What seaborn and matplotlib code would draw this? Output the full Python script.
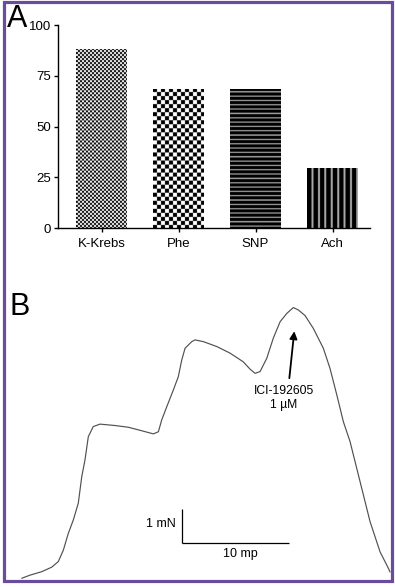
import numpy as np
import matplotlib
matplotlib.use("Agg")
import matplotlib.pyplot as plt
import seaborn as sns
from matplotlib.patches import Rectangle

# ---------------- data ----------------
categories = ["K-Krebs", "Phe", "SNP", "Ach"]
values = [88.2, 68.6, 68.6, 29.7]
y_ticks = [0, 25, 50, 75, 100]

# trace (time in min, force in mN)
time_min = [0.00, 0.77, 1.86, 2.79, 3.40, 3.87, 4.33, 4.80, 5.26, 5.58, 5.88, 6.19,
            6.65, 7.28, 8.67, 9.91, 11.15, 12.23, 12.70, 13.01, 13.48, 14.09, 14.55,
            14.87, 15.18, 15.80, 16.11, 16.88, 18.12, 19.36, 20.59, 21.22, 21.68,
            22.15, 22.77, 23.38, 24.01, 24.63, 25.24, 25.71, 26.33, 27.10, 28.03,
            28.65, 29.28, 29.89, 30.51, 31.44, 32.37, 33.30, 34.07, 34.23]
force_mN = [0.00, 0.09, 0.19, 0.32, 0.48, 0.81, 1.29, 1.68, 2.16, 2.92, 3.40, 4.07,
            4.36, 4.43, 4.39, 4.34, 4.24, 4.15, 4.21, 4.55, 4.93, 5.41, 5.79,
            6.27, 6.61, 6.80, 6.85, 6.80, 6.66, 6.47, 6.22, 6.01, 5.89,
            5.94, 6.32, 6.90, 7.37, 7.61, 7.78, 7.71, 7.55, 7.18, 6.61,
            6.03, 5.27, 4.50, 3.93, 2.78, 1.63, 0.76, 0.29, 0.18]

scale_origin = (14.87, 1.0)   # corner of the scale bar (min, mN)
scale_time = 10               # 10 mp
scale_force = 1               # 1 mN
arrow_tip = (25.33, 7.10)
arrow_tail = (24.87, 5.75)

# ---------------- style ----------------
sns.set_theme(style="ticks", rc={
    "axes.edgecolor": "black", "axes.linewidth": 1.0,
    "xtick.color": "black", "ytick.color": "black",
    "xtick.major.size": 3.0, "ytick.major.size": 3.0,
    "xtick.major.width": 1.0, "ytick.major.width": 1.0,
    "text.color": "black", "axes.labelcolor": "black",
})
plt.rcParams["font.family"] = ["Liberation Sans", "DejaVu Sans"]

W, H = 395, 587
fig = plt.figure(figsize=(W / 100, H / 100), dpi=100)
fig.patch.set_facecolor("white")

# ---------------- panel A ----------------
axA = fig.add_axes([58 / W, 1 - 228 / H, 312 / W, 203 / H])
sns.barplot(x=categories, y=values, ax=axA, color="white", width=0.66,
            edgecolor="none", linewidth=0, saturation=1)
axA.set_xlim(-0.565, 3.487)
axA.set_ylim(0, 100)
axA.set_yticks(y_ticks)
axA.set_xlabel("")
axA.set_ylabel("")
axA.tick_params(axis="both", labelsize=9.5, pad=2, direction="out")
axA.tick_params(axis="x", pad=4)
sns.despine(ax=axA)
axA.set_facecolor("none")


def pattern_array(kind, w, h, S=4):
    yy, xx = np.mgrid[0:h * S, 0:w * S] / S
    if kind == "check_fine":
        return ((xx // 2 + yy // 2) % 2).astype(float)
    if kind == "check_coarse":
        return ((xx // 4 + yy // 4) % 2).astype(float)
    if kind == "hstripes":
        return np.where((yy % 4.3) >= 3.0, 0.62, 0.0)
    if kind == "vstripes":
        return np.where((xx % 6.4) >= 4.4, 0.66, 0.0)
    return np.ones_like(xx)


kinds = ["check_fine", "check_coarse", "hstripes", "vstripes"]
for patch, kind in zip(axA.patches, kinds):
    (x0d, y0d), (x1d, y1d) = patch.get_bbox().get_points()
    p0 = axA.transData.transform((x0d, y0d))
    p1 = axA.transData.transform((x1d, y1d))
    w = max(1, int(round(abs(p1[0] - p0[0]))))
    h = max(1, int(round(abs(p1[1] - p0[1]))))
    arr = pattern_array(kind, w, h)
    im = axA.imshow(arr, cmap="gray", vmin=0, vmax=1,
                    extent=(x0d, x1d, y0d, y1d), origin="upper",
                    interpolation="antialiased", aspect="auto",
                    zorder=patch.get_zorder() + 0.1)
    im.set_clip_path(patch)
axA.set_xlim(-0.565, 3.487)
axA.set_ylim(0, 100)
axA.set_aspect("auto")

fig.text(7 / W, 1 - 4 / H, "A", fontsize=22, ha="left", va="top")

# ---------------- panel B ----------------
axB = fig.add_axes([5 / W, 1 - 580 / H, 387 / W, 290 / H])
sns.lineplot(x=time_min, y=force_mN, ax=axB, color="#505050", linewidth=0.85,
             estimator=None, sort=False)
axB.set_xlim(-1.552, 34.41)
axB.set_ylim(-0.049, 8.284)
axB.axis("off")

ox, oy = scale_origin
axB.plot([ox, ox], [oy, oy + scale_force], color="black", lw=0.9,
         solid_capstyle="butt")
axB.plot([ox, ox + scale_time], [oy, oy], color="black", lw=0.9,
         solid_capstyle="butt")
axB.text(ox - 0.6, oy + 0.56 * scale_force, "1 mN", fontsize=9, ha="right",
         va="center")
axB.text(ox + 0.546 * scale_time, oy - 0.30, "10 mp", fontsize=9, ha="center",
         va="center")

axB.annotate("", xy=arrow_tip, xytext=arrow_tail,
             arrowprops=dict(arrowstyle="-|>", color="black", lw=1.3,
                             mutation_scale=11, shrinkA=0, shrinkB=0))
axB.text(24.38, 5.38, "ICI-192605", fontsize=8.7, ha="center", va="center")
axB.text(24.38, 4.99, "1 µM", fontsize=8.7, ha="center", va="center")

fig.text(10 / W, 1 - 292 / H, "B", fontsize=22, ha="left", va="top")

# ---------------- frame ----------------
fig.add_artist(Rectangle((4 / W, 1 - 580.7 / H), 387.7 / W, 578.5 / H,
                         transform=fig.transFigure, fill=False,
                         edgecolor="#6a4c9e", linewidth=2.3))

fig.savefig("out.png", dpi=100)
